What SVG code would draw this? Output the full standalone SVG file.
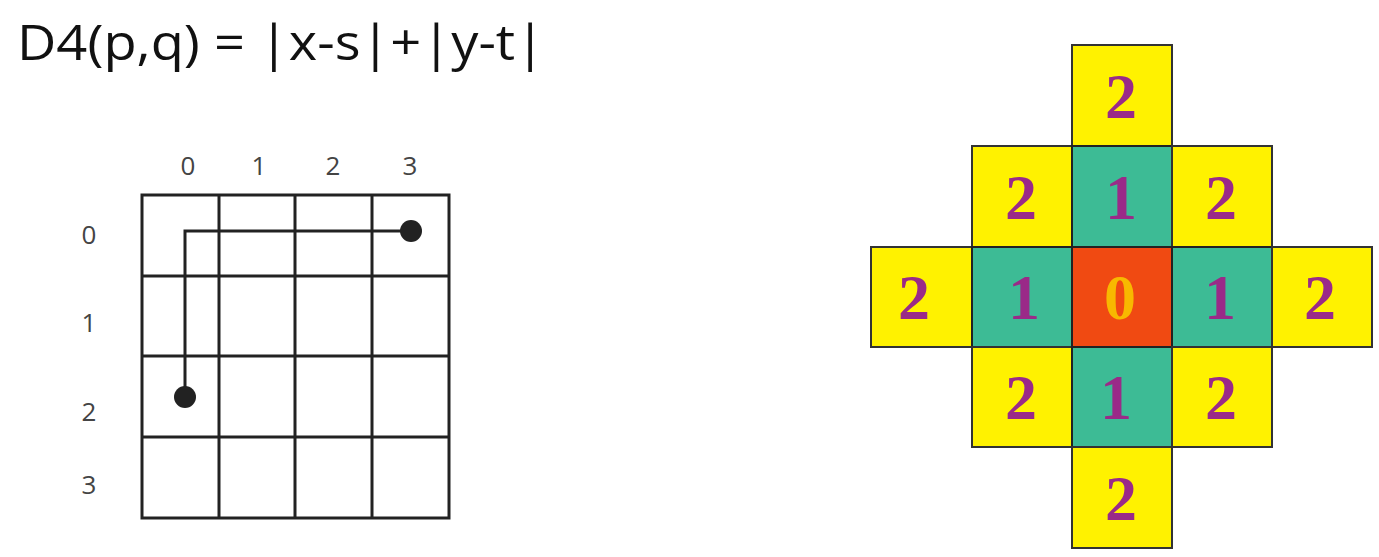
<svg xmlns="http://www.w3.org/2000/svg" width="1379" height="557" viewBox="0 0 1379 557">
<style>
.title{font-family:"Open Sans","Liberation Sans",sans-serif;font-size:50px;fill:#111}
.lbl{font-family:"Open Sans","Liberation Sans",sans-serif;font-size:26px;fill:#444;text-anchor:middle}
.g{stroke:#222;stroke-width:3;fill:none}
.y{fill:#FFF200;stroke:#333;stroke-width:2}
.t{fill:#3DBB95;stroke:#222;stroke-width:2}
.r{fill:#F04A12;stroke:#222;stroke-width:2}
.d{font-family:"Liberation Serif",serif;font-weight:bold;font-size:64px;fill:#9A2A88;text-anchor:middle}
.z{fill:#F8B800}
</style>
<text class="title" x="17" y="60" textLength="528" lengthAdjust="spacingAndGlyphs">D4(p,q) = |x-s|+|y-t|</text>
<g id="grid">
<rect class="g" x="142" y="195" width="307" height="323"/>
<path class="g" d="M219 195V518M295 195V518M372 195V518M142 276H449M142 356H449M142 437H449"/>
<g class="lbl"><text x="188" y="175">0</text><text x="259" y="175">1</text><text x="333" y="175">2</text><text x="410" y="175">3</text>
<text x="89" y="244">0</text><text x="89" y="332">1</text><text x="89" y="421">2</text><text x="89" y="494">3</text></g>
</g>
<g id="connectors">
<path class="g" d="M185 397V231H411"/>
<circle cx="185" cy="397" r="11" fill="#222"/>
<circle cx="411" cy="231" r="11" fill="#222"/>
</g>
<g id="diamond">
<rect class="y" x="1072" y="45" width="100" height="101"/>
<rect class="y" x="972" y="146" width="100" height="101"/>
<rect class="t" x="1072" y="146" width="100" height="101"/>
<rect class="y" x="1172" y="146" width="100" height="101"/>
<rect class="y" x="871" y="247" width="101" height="100"/>
<rect class="t" x="972" y="247" width="100" height="100"/>
<rect class="r" x="1072" y="247" width="100" height="100"/>
<rect class="t" x="1172" y="247" width="100" height="100"/>
<rect class="y" x="1272" y="247" width="100" height="100"/>
<rect class="y" x="972" y="347" width="100" height="100"/>
<rect class="t" x="1072" y="347" width="100" height="100"/>
<rect class="y" x="1172" y="347" width="100" height="100"/>
<rect class="y" x="1072" y="447" width="100" height="101"/>
<text class="d" x="1121" y="118">2</text>
<text class="d" x="1021" y="219">2</text>
<text class="d" x="1121" y="219">1</text>
<text class="d" x="1221" y="219">2</text>
<text class="d" x="914" y="319">2</text>
<text class="d" x="1024" y="319">1</text>
<text class="d z" x="1120" y="319">0</text>
<text class="d" x="1220" y="319">1</text>
<text class="d" x="1320" y="319">2</text>
<text class="d" x="1021" y="419">2</text>
<text class="d" x="1116" y="419">1</text>
<text class="d" x="1221" y="419">2</text>
<text class="d" x="1121" y="520">2</text>
</g>
</svg>
